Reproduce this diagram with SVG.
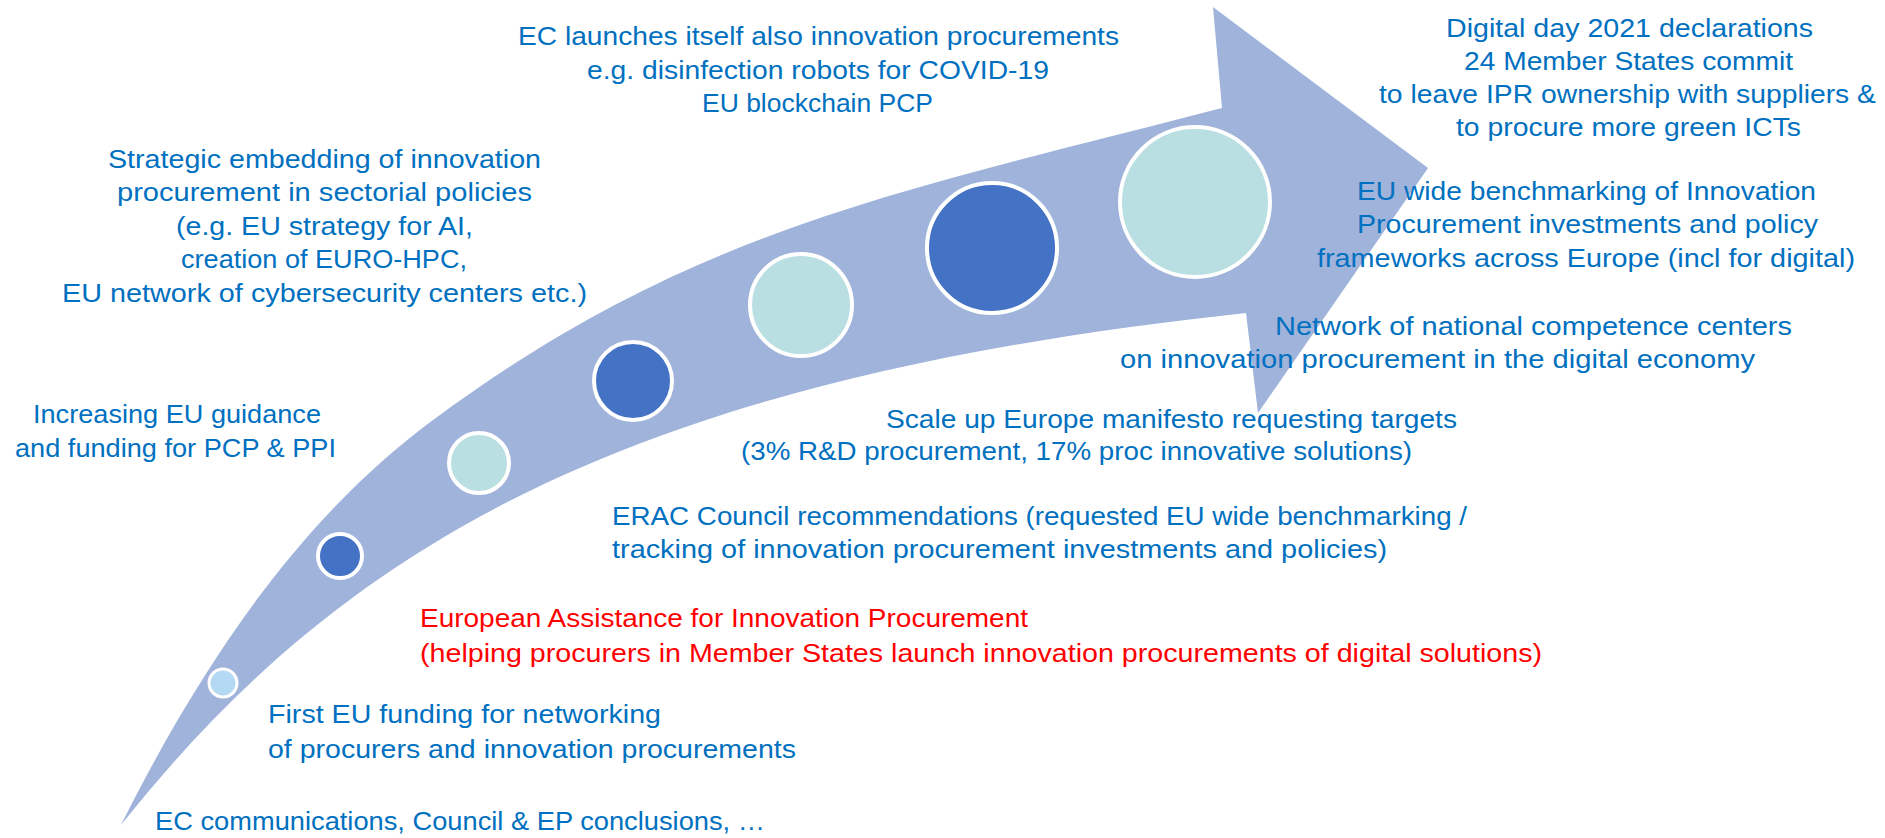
<svg xmlns="http://www.w3.org/2000/svg" width="1885" height="838" viewBox="0 0 1885 838">
<style>
.t{font-family:"Liberation Sans",Arial,sans-serif;font-size:26px;fill:#0070C0}
.r{fill:#FF0000}
.dk{fill:#4472C4;stroke:#fff;stroke-width:4}
.tl{fill:#B9DFE3;stroke:#fff;stroke-width:4}
.lb{fill:#B4D9F4;stroke:#fff;stroke-width:3}
</style>
<rect width="1885" height="838" fill="#fff"/>
<g id="arrow">
<path d="M121,825 C221,625 323,501.4 433,420 C693,227.6 902,191.2 1222,108 L1213,7 L1428,168 L1258,413 L1246,313 C617,380 340,550 121,825 Z" fill="#A0B3DA"/>
</g>
<g id="milestones">
<circle id="c1" class="lb" cx="223" cy="683" r="14"/>
<circle id="c2" class="dk" cx="340" cy="556" r="22"/>
<circle id="c3" class="tl" cx="479" cy="463" r="30"/>
<circle id="c4" class="dk" cx="633" cy="381" r="39"/>
<circle id="c5" class="tl" cx="801" cy="305" r="51"/>
<circle id="c6" class="dk" cx="992" cy="248" r="65"/>
<circle id="c7" class="tl" cx="1195" cy="202" r="75"/>
</g>
<g id="n-ec-launches">
<text class="t" x="518" y="45" textLength="601" lengthAdjust="spacingAndGlyphs">EC launches itself also innovation procurements</text>
<text class="t" x="587" y="79" textLength="462" lengthAdjust="spacingAndGlyphs">e.g. disinfection robots for COVID-19</text>
<text class="t" x="702" y="112" textLength="231" lengthAdjust="spacingAndGlyphs">EU blockchain PCP</text>
</g>
<g id="n-digital-day">
<text class="t" x="1446" y="37" textLength="367" lengthAdjust="spacingAndGlyphs">Digital day 2021 declarations</text>
<text class="t" x="1464" y="70" textLength="329" lengthAdjust="spacingAndGlyphs">24 Member States commit</text>
<text class="t" x="1379" y="103" textLength="497" lengthAdjust="spacingAndGlyphs">to leave IPR ownership with suppliers &amp;</text>
<text class="t" x="1456" y="136" textLength="345" lengthAdjust="spacingAndGlyphs">to procure more green ICTs</text>
</g>
<g id="n-strategic">
<text class="t" x="108" y="168" textLength="433" lengthAdjust="spacingAndGlyphs">Strategic embedding of innovation</text>
<text class="t" x="117" y="201" textLength="415" lengthAdjust="spacingAndGlyphs">procurement in sectorial policies</text>
<text class="t" x="176" y="235" textLength="297" lengthAdjust="spacingAndGlyphs">(e.g. EU strategy for AI,</text>
<text class="t" x="181" y="268" textLength="286" lengthAdjust="spacingAndGlyphs">creation of EURO-HPC,</text>
<text class="t" x="62" y="302" textLength="525" lengthAdjust="spacingAndGlyphs">EU network of cybersecurity centers etc.)</text>
</g>
<g id="n-benchmarking">
<text class="t" x="1357" y="200" textLength="459" lengthAdjust="spacingAndGlyphs">EU wide benchmarking of Innovation</text>
<text class="t" x="1357" y="233" textLength="461" lengthAdjust="spacingAndGlyphs">Procurement investments and policy</text>
<text class="t" x="1317" y="267" textLength="538" lengthAdjust="spacingAndGlyphs">frameworks across Europe (incl for digital)</text>
</g>
<g id="n-network">
<text class="t" x="1275" y="335" textLength="517" lengthAdjust="spacingAndGlyphs">Network of national competence centers</text>
<text class="t" x="1120" y="368" textLength="635" lengthAdjust="spacingAndGlyphs">on innovation procurement in the digital economy</text>
</g>
<g id="n-increasing">
<text class="t" x="33" y="423" textLength="288" lengthAdjust="spacingAndGlyphs">Increasing EU guidance</text>
<text class="t" x="15" y="457" textLength="321" lengthAdjust="spacingAndGlyphs">and funding for PCP &amp; PPI</text>
</g>
<g id="n-scale-up">
<text class="t" x="886" y="428" textLength="571" lengthAdjust="spacingAndGlyphs">Scale up Europe manifesto requesting targets</text>
<text class="t" x="741" y="460" textLength="671" lengthAdjust="spacingAndGlyphs">(3% R&amp;D procurement, 17% proc innovative solutions)</text>
</g>
<g id="n-erac">
<text class="t" x="612" y="525" textLength="855" lengthAdjust="spacingAndGlyphs">ERAC Council recommendations (requested EU wide benchmarking /</text>
<text class="t" x="612" y="558" textLength="775" lengthAdjust="spacingAndGlyphs">tracking of innovation procurement investments and policies)</text>
</g>
<g id="n-eafip">
<text class="t r" x="420" y="627" textLength="608" lengthAdjust="spacingAndGlyphs">European Assistance for Innovation Procurement</text>
<text class="t r" x="420" y="662" textLength="1122" lengthAdjust="spacingAndGlyphs">(helping procurers in Member States launch innovation procurements of digital solutions)</text>
</g>
<g id="n-first-funding">
<text class="t" x="268" y="723" textLength="393" lengthAdjust="spacingAndGlyphs">First EU funding for networking</text>
<text class="t" x="268" y="758" textLength="528" lengthAdjust="spacingAndGlyphs">of procurers and innovation procurements</text>
</g>
<g id="n-ec-communications">
<text class="t" x="155" y="830" textLength="610" lengthAdjust="spacingAndGlyphs">EC communications, Council &amp; EP conclusions, …</text>
</g>
</svg>
